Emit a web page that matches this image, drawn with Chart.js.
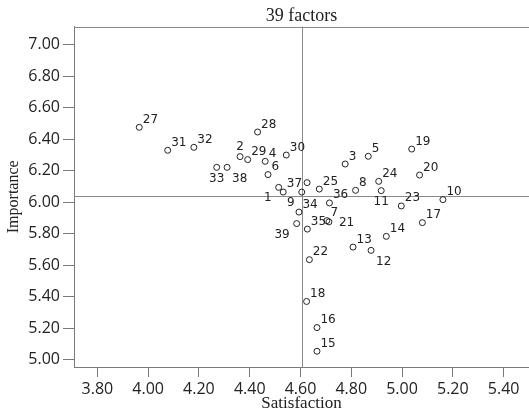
<!DOCTYPE html>
<html><head><meta charset="utf-8">
<style>html,body{margin:0;padding:0;background:#fff;}canvas{display:block;}</style>
<script src="https://cdn.jsdelivr.net/npm/chart.js@4/dist/chart.umd.min.js"></script>
</head><body>
<canvas id="c" width="529" height="412"></canvas>
<script>
const factorIds = ['1','2','3','4','5','6','7','8','9','10','11','12','13','14','15','16','17','18','19','20',
  '21','22','23','24','25','26','27','28','29','30','31','32','33','34','35','36','37','38','39'];
const satisfaction = [4.514,4.362,4.776,4.461,4.867,4.472,4.704,4.817,4.605,5.161,
  4.918,4.878,4.807,4.938,4.665,4.665,5.080,4.624,5.038,5.069,
  4.712,4.635,4.997,4.908,4.674,4.532,3.965,4.431,4.392,4.544,
  4.077,4.180,4.270,4.594,4.627,4.714,4.626,4.311,4.585];
const importance = [6.095,6.290,6.243,6.260,6.292,6.176,5.884,6.076,6.065,6.017,
  6.074,5.695,5.716,5.784,5.055,5.205,5.871,5.371,6.338,6.173,
  5.876,5.636,5.977,6.133,6.084,6.065,6.476,6.446,6.271,6.300,
  6.330,6.349,6.222,5.938,5.830,5.996,6.125,6.222,5.865];
const labelPlacement = ['sw','n','ne','ne','ne','ne','ne','ne','sw','ne',
  's','se','ne','ne','ne','ne','ne','ne','ne','ne',
  'e','ne','ne','ne','ne','none','ne','ne','ne','ne',
  'ne','ne','s','ne','ne','ne','w','se','sw'];
const xTickValues = [3.8,4.0,4.2,4.4,4.6,4.8,5.0,5.2,5.4];
const yTickValues = [5.0,5.2,5.4,5.6,5.8,6.0,6.2,6.4,6.6,6.8,7.0];
const xRange = [3.708, 5.5];
const yRange = [4.955, 7.115];
const meanSatisfaction = 4.607;
const meanImportance = 6.04;

const points = satisfaction.map((v, i) => ({x: v, y: importance[i]}));

const quadrantPlugin = {
  id: 'quadrants',
  beforeDatasetsDraw(chart) {
    const {ctx, chartArea: a, scales: {x, y}} = chart;
    ctx.save();
    ctx.strokeStyle = '#8a8a8a';
    ctx.lineWidth = 1;
    const px = Math.round(x.getPixelForValue(meanSatisfaction)) + 0.5;
    const py = Math.round(y.getPixelForValue(meanImportance)) + 0.5;
    const top = Math.round(a.top) + 0.5;
    ctx.beginPath();
    ctx.moveTo(a.left, top); ctx.lineTo(a.right, top);
    ctx.moveTo(px, a.top); ctx.lineTo(px, a.bottom);
    ctx.moveTo(a.left, py); ctx.lineTo(a.right, py);
    ctx.stroke();
    ctx.restore();
  }
};

const labelPlugin = {
  id: 'pointLabels',
  afterDatasetsDraw(chart) {
    const {ctx} = chart;
    const meta = chart.getDatasetMeta(0);
    ctx.save();
    ctx.font = '12px "DejaVu Sans"';
    ctx.fillStyle = '#222';
    ctx.textBaseline = 'alphabetic';
    meta.data.forEach((el, i) => {
      const p = labelPlacement[i];
      if (p === 'none') return;
      const t = factorIds[i];
      let tx = el.x, ty = el.y;
      switch (p) {
        case 'ne': ctx.textAlign = 'left'; tx += 3.5; ty -= 4.5; break;
        case 'n': ctx.textAlign = 'center'; ty -= 7; break;
        case 's': ctx.textAlign = 'center'; ty += 14.5; break;
        case 'se': ctx.textAlign = 'left'; tx += 5; ty += 14.5; break;
        case 'sw': ctx.textAlign = 'right'; tx -= 7; ty += 14; break;
        case 'w': ctx.textAlign = 'right'; tx -= 5; ty += 4.5; break;
        case 'e': ctx.textAlign = 'left'; tx += 10; ty += 4.5; break;
      }
      ctx.fillText(t, tx, ty);
    });
    ctx.restore();
  }
};

new Chart(document.getElementById('c'), {
  type: 'scatter',
  data: {
    datasets: [{
      data: points,
      pointRadius: 3,
      pointHoverRadius: 3,
      pointBorderWidth: 1,
      borderColor: '#222',
      pointBorderColor: '#222',
      pointBackgroundColor: 'rgba(255,255,255,0)',
      showLine: false
    }]
  },
  options: {
    responsive: false,
    devicePixelRatio: 1,
    animation: false,
    layout: {autoPadding: false, padding: {left: 0, right: 0, top: 0, bottom: 0}},
    plugins: {
      legend: {display: false},
      tooltip: {enabled: false},
      title: {
        display: true,
        fullSize: false,
        text: '39 factors',
        font: {family: 'Liberation Serif', size: 18, weight: 'normal'},
        color: '#222',
        padding: {top: 5, bottom: 0}
      }
    },
    scales: {
      x: {
        type: 'linear',
        min: xRange[0], max: xRange[1],
        afterBuildTicks: s => { s.ticks = xTickValues.map(v => ({value: v})); },
        afterFit: s => { s.height = 45; s.paddingRight = 0; s.paddingLeft = 0; },
        ticks: {
          callback: v => Number(v).toFixed(2),
          font: {family: 'Open Sans', size: 16},
          color: '#222', padding: 3, maxRotation: 0, autoSkip: false
        },
        grid: {drawOnChartArea: false, drawTicks: true, tickLength: 10, color: '#7a7a7a', lineWidth: 1},
        border: {display: true, color: '#7a7a7a', width: 1},
        title: {display: true, text: 'Satisfaction',
          font: {family: 'Liberation Serif', size: 17, lineHeight: 1}, color: '#222',
          padding: {top: 0, bottom: 0}}
      },
      y: {
        type: 'linear',
        min: yRange[0], max: yRange[1],
        afterBuildTicks: s => { s.ticks = yTickValues.map(v => ({value: v})); },
        afterFit: s => { s.width = 74; s.paddingTop = 0; s.paddingBottom = 0; },
        ticks: {
          callback: v => Number(v).toFixed(2),
          font: {family: 'Open Sans', size: 16},
          color: '#222', padding: 3, autoSkip: false
        },
        grid: {drawOnChartArea: false, drawTicks: true, tickLength: 11, color: '#7a7a7a', lineWidth: 1},
        border: {display: true, color: '#7a7a7a', width: 1},
        title: {display: true, text: 'Importance',
          font: {family: 'Liberation Serif', size: 16, lineHeight: 1}, color: '#222',
          padding: {top: 6, bottom: 0}}
      }
    }
  },
  plugins: [quadrantPlugin, labelPlugin]
});
</script>
</body></html>
